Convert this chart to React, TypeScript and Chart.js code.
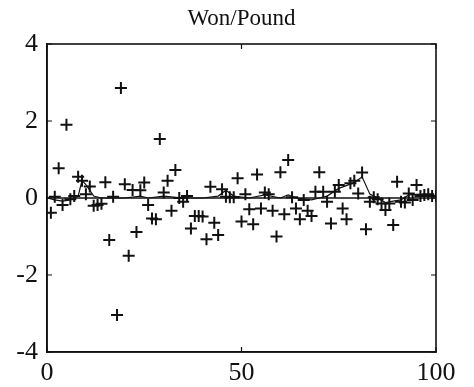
import React, { useEffect, useRef } from "react";
import { Chart, registerables } from "chart.js";

Chart.register(...registerables);

const TITLE = "Won/Pound";
const X_TICKS = [0, 50, 100];
const Y_TICKS = [-4, -2, 0, 2, 4];

// residuals, one per observation 1..100
const residuals = [
  -0.38, 0.03, 0.77, -0.18, 1.9, -0.03, 0.05, 0.55, 0.45, 0.1,
  0.3, -0.2, -0.18, -0.15, 0.41, -1.09, 0.03, -3.04, 2.86, 0.36,
  -1.5, 0.21, -0.88, 0.2, 0.4, -0.18, -0.53, -0.55, 1.53, 0.14,
  0.45, -0.33, 0.73, 0.0, -0.1, 0.05, -0.79, -0.47, -0.47, -0.48,
  -1.07, 0.29, -0.64, -0.96, 0.23, 0.03, 0.02, 0.02, 0.51, -0.61,
  0.1, -0.29, -0.68, 0.61, -0.27, 0.14, 0.1, -0.33, -1.0, 0.67,
  -0.42, 0.99, 0.02, -0.27, -0.55, -0.05, -0.33, -0.47, 0.16, 0.67,
  0.16, -0.1, -0.66, 0.16, 0.34, -0.27, -0.55, 0.38, 0.45, 0.12,
  0.66, -0.81, -0.1, 0.02, -0.03, -0.14, -0.31, -0.14, -0.7, 0.42,
  -0.1, -0.12, 0.12, -0.05, 0.34, 0.05, 0.08, 0.1, 0.05, 0.05,
];

// slowly varying estimate line near zero
const fitX = [0, 2, 4, 6, 8, 9, 10, 11, 12, 14, 20, 24, 26, 30, 35, 40, 44, 46, 48, 52, 56, 60, 62, 64, 68, 70, 72, 75, 79, 81, 83, 85, 87, 89, 91, 93, 96, 100];
const fitY = [0, -0.05, -0.08, -0.05, 0.05, 0.45, 0.35, 0.2, 0.05, 0, 0, 0.05, 0, 0.05, 0, 0, 0.05, 0.2, 0.05, 0, 0.08, 0, 0.08, 0, -0.05, 0, 0.05, 0.25, 0.4, 0.55, 0.1, 0, -0.12, -0.08, -0.05, 0.08, 0.1, 0.05];

const zeroX = [0, 100];
const zeroY = [0, 0];

const SERIF = "'Liberation Serif', 'Times New Roman', serif";

const framePlugin = {
  id: "frame",
  afterDatasetsDraw(chart: any) {
    const { ctx, chartArea } = chart;
    const { left, right, top, bottom } = chartArea;
    const xs = chart.scales.x;
    const ys = chart.scales.y;
    ctx.save();
    ctx.strokeStyle = "#111";
    ctx.lineWidth = 1.6;
    ctx.strokeRect(left, top, right - left, bottom - top);
    ctx.lineWidth = 1.2;
    const tl = 5;
    ctx.beginPath();
    for (const v of X_TICKS) {
      const px = xs.getPixelForValue(v);
      ctx.moveTo(px, bottom);
      ctx.lineTo(px, bottom - tl);
      ctx.moveTo(px, top);
      ctx.lineTo(px, top + tl);
    }
    for (const v of Y_TICKS) {
      const py = ys.getPixelForValue(v);
      ctx.moveTo(left, py);
      ctx.lineTo(left + tl, py);
      ctx.moveTo(right, py);
      ctx.lineTo(right - tl, py);
    }
    ctx.stroke();
    ctx.restore();
  },
};

export default function App() {
  const ref = useRef<HTMLCanvasElement>(null);

  useEffect(() => {
    document.body.style.margin = "0";
    const canvas = ref.current;
    if (!canvas) return;
    const chart = new Chart(canvas, {
      type: "scatter",
      data: {
        datasets: [
          {
            type: "line",
            label: "zero",
            data: zeroX.map((x, i) => ({ x, y: zeroY[i] })),
            borderColor: "#111",
            borderWidth: 1.5,
            pointRadius: 0,
            fill: false,
          },
          {
            type: "line",
            label: "fit",
            data: fitX.map((x, i) => ({ x, y: fitY[i] })),
            borderColor: "#111",
            borderWidth: 1.2,
            pointRadius: 0,
            tension: 0,
            fill: false,
          },
          {
            label: "residuals",
            data: residuals.map((y, i) => ({ x: i + 1, y })),
            pointStyle: "cross",
            pointRadius: 6,
            pointBorderWidth: 2,
            borderColor: "#111",
            backgroundColor: "#111",
            showLine: false,
          } as any,
        ],
      },
      options: {
        animation: false,
        responsive: false,
        layout: { padding: { left: 0, right: 38, top: 0, bottom: 0 } },
        plugins: {
          legend: { display: false },
          tooltip: { enabled: false },
          title: {
            display: true,
            fullSize: false,
            text: TITLE,
            color: "#111",
            font: { family: SERIF, size: 23, weight: "normal" as any },
            padding: { top: 5, bottom: 11.4 },
          },
        },
        scales: {
          x: {
            type: "linear",
            min: 0,
            max: 100,
            afterBuildTicks: (s: any) => {
              s.ticks = X_TICKS.map((v) => ({ value: v }));
            },
            afterFit: (s: any) => {
              s.height = 35;
            },
            grid: { display: false, drawTicks: false },
            border: { display: true, color: "#111", width: 1.6 },
            ticks: {
              color: "#111",
              font: { family: SERIF, size: 26 },
              padding: 6,
              maxRotation: 0,
            },
          },
          y: {
            type: "linear",
            min: -4,
            max: 4,
            afterBuildTicks: (s: any) => {
              s.ticks = Y_TICKS.map((v) => ({ value: v }));
            },
            afterFit: (s: any) => {
              s.width = 47;
            },
            grid: { display: false, drawTicks: false },
            border: { display: true, color: "#111", width: 1.6 },
            ticks: {
              color: "#111",
              font: { family: SERIF, size: 26 },
              padding: 9,
              callback: (v: any) => String(v),
            },
          },
        },
      },
      plugins: [framePlugin],
    });
    return () => chart.destroy();
  }, []);

  return (
    <div style={{ width: 474, height: 387, background: "#fff" }}>
      <canvas ref={ref} width={474} height={387} />
    </div>
  );
}
